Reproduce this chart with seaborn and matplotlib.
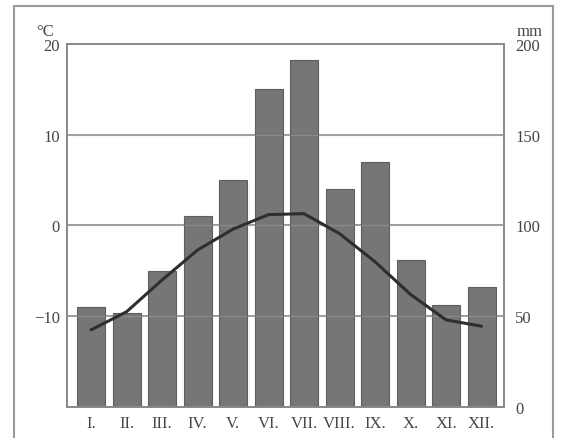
import numpy as np
import pandas as pd
import matplotlib
matplotlib.use('Agg')
import matplotlib.pyplot as plt
import seaborn as sns

# monthly climate data
months = ['I.', 'II.', 'III.', 'IV.', 'V.', 'VI.', 'VII.', 'VIII.', 'IX.', 'X.', 'XI.', 'XII.']
precip_mm = [55, 52, 75, 105, 125, 175, 191, 120, 135, 81, 56, 66]
temp_c = [-11.5, -9.5, -6.0, -2.7, -0.4, 1.2, 1.3, -0.9, -4.0, -7.6, -10.4, -11.1]

temp_ticks = [-10, 0, 10, 20]
precip_ticks = [0, 50, 100, 150, 200]

df = pd.DataFrame({'month': months, 'precip': precip_mm, 'temp': temp_c})
df['pos'] = np.arange(len(months))

sns.set_style('white')
plt.rcParams['font.family'] = ['Liberation Serif', 'DejaVu Serif']

grey = '#8a8a8a'
txt = '#454545'
fig = plt.figure(figsize=(5.63, 4.39), dpi=100)
ax = fig.add_axes([0.119, 0.0706, 0.776, 0.827])
ax2 = ax.twinx()

# temperature axis (left) with grid
ax.set_ylim(-20, 20)
ax.set_yticks(temp_ticks)
ax.set_yticklabels(['\u221210', '0', '10', '20'])
for t in [-10, 0, 10]:
    ax.axhline(t, color=grey, lw=1.2, zorder=0)

# precipitation bars on right axis
ax2.set_ylim(0, 200)
ax2.set_yticks(precip_ticks)
ax2.bar(df['pos'], df['precip'], width=0.79, color='#767676',
        edgecolor='#5e5e5e', linewidth=0.8, zorder=2)

# temperature line drawn on top
ax3 = ax.twinx()
ax3.set_ylim(-20, 20)
ax3.axis('off')
# grid shows faintly through the bars
for t in [-10, 0, 10]:
    ax3.axhline(t, color='#b0b0b0', lw=1.0, alpha=0.35, zorder=1)
sns.lineplot(data=df, x='pos', y='temp', ax=ax3, color='#2e2e2e', lw=2.2,
             zorder=5)

for a in (ax, ax2, ax3):
    a.set_xlim(-0.68, 11.63)
    a.set_xlabel('')
    a.set_ylabel('')
ax.set_xticks(df['pos'])
ax.set_xticklabels(months)
ax.tick_params(axis='both', length=0, labelsize=12, colors=txt, pad=5)
ax2.tick_params(axis='y', length=0, labelsize=12, colors=txt, pad=8)
ax.tick_params(axis='x', pad=6)

for a in (ax, ax2):
    for s in a.spines.values():
        s.set_color(grey)
        s.set_linewidth(1.3)

ax.text(-0.03, 1.015, '\u00b0C', transform=ax.transAxes, ha='right',
        va='bottom', fontsize=12, color=txt)
ax2.text(1.03, 1.015, 'mm', transform=ax2.transAxes, ha='left',
         va='bottom', fontsize=12, color=txt)

# outer frame of the figure
fig.patches.append(plt.Rectangle((0.025, -0.01), 0.957, 0.995,
                                 transform=fig.transFigure, fill=False,
                                 edgecolor='#9a9a9a', lw=1.5))

fig.savefig('out.png', dpi=100)
